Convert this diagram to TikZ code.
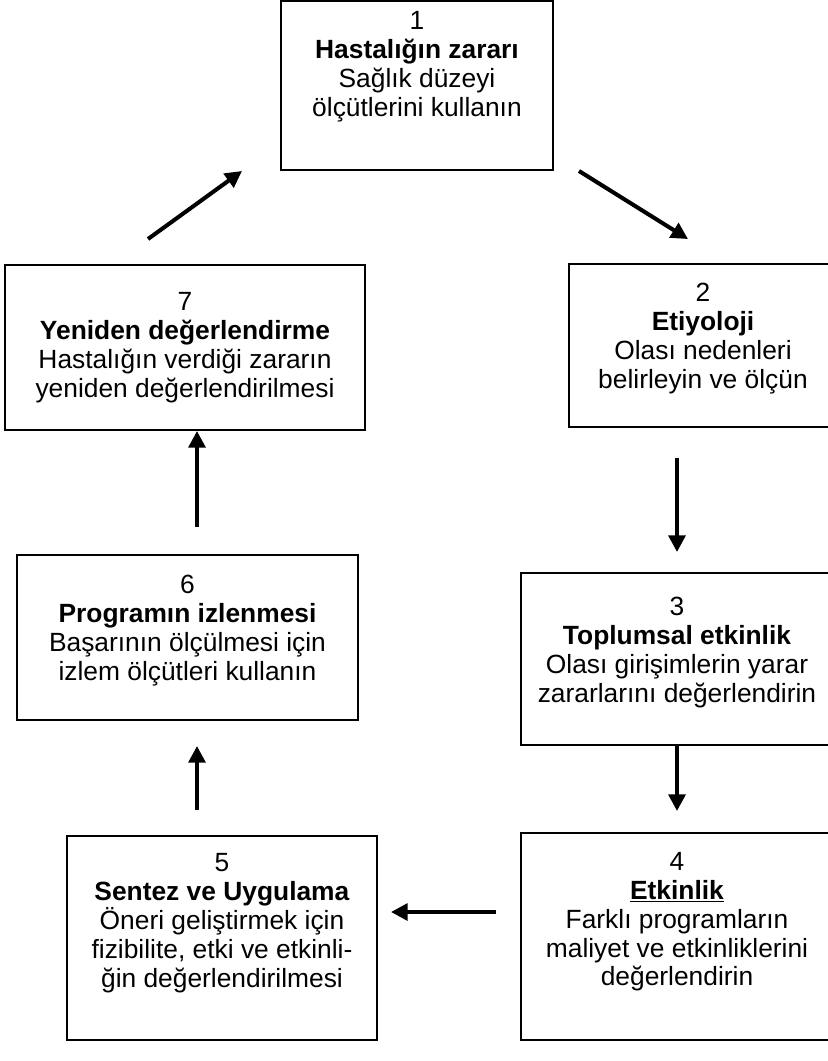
\documentclass[tikz,border=0pt]{standalone}
\usepackage{fontspec}
\setmainfont{Liberation Sans}
\usetikzlibrary{arrows.meta,calc,positioning}
\tikzset{
  stage/.style={draw, line width=1.1pt, align=center, inner sep=2pt,
    font=\fontsize{15}{16.5}\selectfont},
  lift/.style={execute at end node={\rule[-#1]{0pt}{0pt}}},
  flow/.style={-{Triangle[length=9.5pt,width=9.5pt]}, line width=2.3pt},
}
\begin{document}
\begin{tikzpicture}[x=1cm,y=1cm]
  \useasboundingbox (0,0) rectangle (16.54,-21.22);

  % Cycle of stages, clockwise from the top.
  \node[stage, lift=24pt, minimum width=5.44cm, minimum height=3.38cm] (b1) at (8.34,-1.71)
    {1\\\textbf{Hastalığın zararı}\\Sağlık düzeyi\\ölçütlerini kullanın};
  \node[stage, lift=11pt, minimum width=5.36cm, minimum height=3.26cm] (b2) at (14.06,-6.91)
    {2\\\textbf{Etiyoloji}\\Olası nedenleri\\belirleyin ve ölçün};
  \node[stage, lift=11pt, minimum width=6.24cm, minimum height=3.44cm] (b3) at (13.54,-13.18)
    {3\\\textbf{Toplumsal etkinlik}\\Olası girişimlerin yarar\\zararlarını değerlendirin};
  \node[stage, lift=20pt, minimum width=6.24cm, minimum height=4.14cm] (b4) at (13.54,-18.73)
    {4\\\underline{\textbf{Etkinlik}}\\Farklı programların\\maliyet ve etkinliklerini\\değerlendirin};
  \node[stage, lift=20pt, minimum width=6.2cm, minimum height=4.08cm] (b5) at (4.44,-18.76)
    {5\\\textbf{Sentez ve Uygulama}\\Öneri geliştirmek için\\fizibilite, etki ve etkinli-\\ğin değerlendirilmesi};
  \node[stage, lift=11pt, minimum width=6.82cm, minimum height=3.3cm] (b6) at (3.75,-12.75)
    {6\\\textbf{Programın izlenmesi}\\Başarının ölçülmesi için\\izlem ölçütleri kullanın};
  \node[stage, minimum width=7.2cm, minimum height=3.3cm] (b7) at (3.7,-6.95)
    {7\\\textbf{Yeniden değerlendirme}\\Hastalığın verdiği zararın\\yeniden değerlendirilmesi};

  % Arrows between the stages.
  \draw[flow] ([xshift=0.5cm]b1.south east) -- ([xshift=-0.3cm,yshift=0.48cm]b2.north);
  \draw[flow, shorten <=0.6cm, shorten >=0.4cm] (b3.north |- b2.south) -- (b3.north);
  \draw[flow, shorten >=0.42cm] (b3.south) -- (b4.north);
  \draw[flow, shorten <=0.48cm, shorten >=0.26cm]
    ([yshift=0.49cm]b4.west) -- ([yshift=0.49cm]b4.west -| b5.east);
  \draw[flow, shorten <=0.5cm, shorten >=0.5cm]
    ([xshift=0.19cm]b6.south |- b5.north) -- ([xshift=0.19cm]b6.south);
  \draw[flow, shorten <=0.54cm]
    ([xshift=0.19cm]b6.north) -- ([xshift=0.19cm]b6.north |- b7.south);
  \draw[flow] ([xshift=-0.74cm,yshift=0.5cm]b7.north) -- ([xshift=-0.76cm]b1.south west);

\end{tikzpicture}
\end{document}
